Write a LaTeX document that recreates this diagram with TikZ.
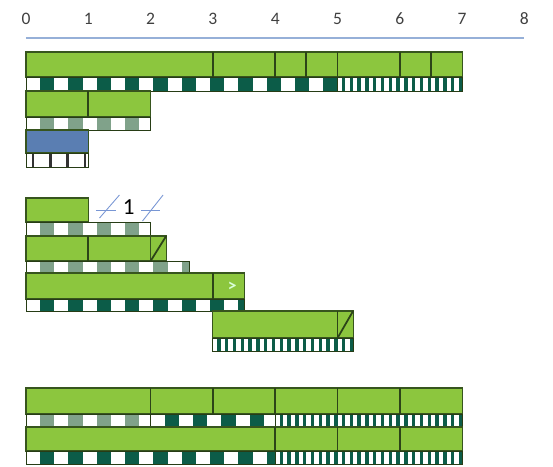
\documentclass[tikz,border=0pt]{standalone}
\usepackage{fontspec}
\setmainfont{Carlito}
\usepackage{xcolor}
\usepackage{tikz}

\definecolor{barfill}{RGB}{140,198,62}
\definecolor{barline}{RGB}{55,85,30}
\definecolor{darkcell}{RGB}{12,92,72}
\definecolor{greycell}{RGB}{128,162,138}
\definecolor{bluefill}{RGB}{90,126,178}
\definecolor{rulerblue}{RGB}{150,176,216}
\definecolor{markblue}{RGB}{120,150,212}

% checker strip: x from #1 to #2, y from #3 to #4, cell colour #5
\newcommand{\checkrow}[5]{%
  \begin{scope}
    \clip (#1,#3) rectangle (#2,#4);
    \fill[white] (#1,#3) rectangle (#2,#4);
    \foreach \k in {0,...,20}
      \fill[#5] ({#1+\k*0.4545+0.2273},#3) rectangle ({#1+(\k+1)*0.4545},#4);
  \end{scope}
  \draw[cellline] (#1,#3) rectangle (#2,#4);
}
% fine striped strip
\newcommand{\thinrow}[4]{%
  \begin{scope}
    \clip (#1,#3) rectangle (#2,#4);
    \fill[white] (#1,#3) rectangle (#2,#4);
    \foreach \k in {0,...,40}
      \fill[darkcell] ({#1+\k*0.125+0.07},#3) rectangle ({#1+(\k+1)*0.125},#4);
  \end{scope}
  \draw[cellline] (#1,#3) rectangle (#2,#4);
}

\begin{document}
\begin{tikzpicture}[
    x=1cm, y=-0.01605cm,
    gbox/.style={draw=barline, fill=barfill, line width=0.5pt},
    divider/.style={draw=barline!80!black, line width=0.8pt},
    cellline/.style={draw=barline!70!black, line width=0.45pt},
    tick/.style={font=\fontsize{8}{9}\selectfont, text=black!75},
    slashmark/.style={draw=markblue, line width=0.4pt}
]
\useasboundingbox (-0.4173,0) rectangle (8.459,466);

% ruler
\foreach \i in {0,...,8}
  \node[tick] (t\i) at (\i,19) {\i};
\draw[rulerblue, line width=0.9pt] (0,38) -- (8,38);

% first group
\draw[gbox] (0,52) rectangle (7,77);
\foreach \x in {3,4,4.5,5,6,6.5}
  \draw[divider] (\x,52) -- (\x,77);
\checkrow{0}{5}{77}{91}{darkcell}
\thinrow{5}{7}{77}{91}

\draw[gbox] (0,91) rectangle (2,117);
\draw[divider] (1,91) -- (1,117);
\checkrow{0}{2}{117}{130}{greycell}

\draw[draw=barline, fill=bluefill, line width=0.5pt] (0,130) rectangle (1,153);
\fill[white] (0,153) rectangle (1,167);
\foreach \x in {0.11,0.39,0.67,0.95}
  \fill[black!80] (\x-0.02,153) rectangle (\x+0.02,167);
\draw[cellline] (0,153) rectangle (1,167);

% second group
\draw[gbox] (0,198) rectangle (1,222);
\checkrow{0}{2}{222}{236}{greycell}
\draw[slashmark] (1.12,210) -- (1.45,210);
\draw[slashmark] (1.18,218) -- (1.50,195);
\draw[slashmark] (1.85,210) -- (2.15,210);
\draw[slashmark] (1.87,221) -- (2.20,195);
\node[font=\fontsize{10.5}{12}\selectfont] (len) at (1.65,207) {1};

\draw[gbox] (0,236) rectangle (2,261);
\draw[divider] (1,236) -- (1,261);
\draw[gbox] (2,236) rectangle (2.25,261);
\draw[divider] (2,261) -- (2.25,236);
\checkrow{0}{2.63}{261}{273}{greycell}

\draw[gbox] (0,273) rectangle (3.5,299);
\draw[divider] (3,273) -- (3,299);
\node[font=\bfseries\fontsize{8}{9}\selectfont, text=green!15!white] (nxt) at (3.31,287) {>};
\checkrow{0}{3.5}{299}{311}{darkcell}

\draw[gbox] (3,311) rectangle (5.25,338);
\draw[divider] (5,311) -- (5,338);
\draw[divider] (5,338) -- (5.25,311);
\thinrow{3}{5.25}{338}{351}

% third group
\draw[gbox] (0,388) rectangle (7,414);
\foreach \x in {2,3,4,5,6}
  \draw[divider] (\x,388) -- (\x,414);
\checkrow{0}{2}{414}{427}{greycell}
\checkrow{2}{4}{414}{427}{darkcell}
\thinrow{4}{7}{414}{427}

\draw[gbox] (0,427) rectangle (7,451);
\foreach \x in {4,5,6}
  \draw[divider] (\x,427) -- (\x,451);
\checkrow{0}{4}{451}{464}{darkcell}
\thinrow{4}{7}{451}{464}
\end{tikzpicture}
\end{document}
